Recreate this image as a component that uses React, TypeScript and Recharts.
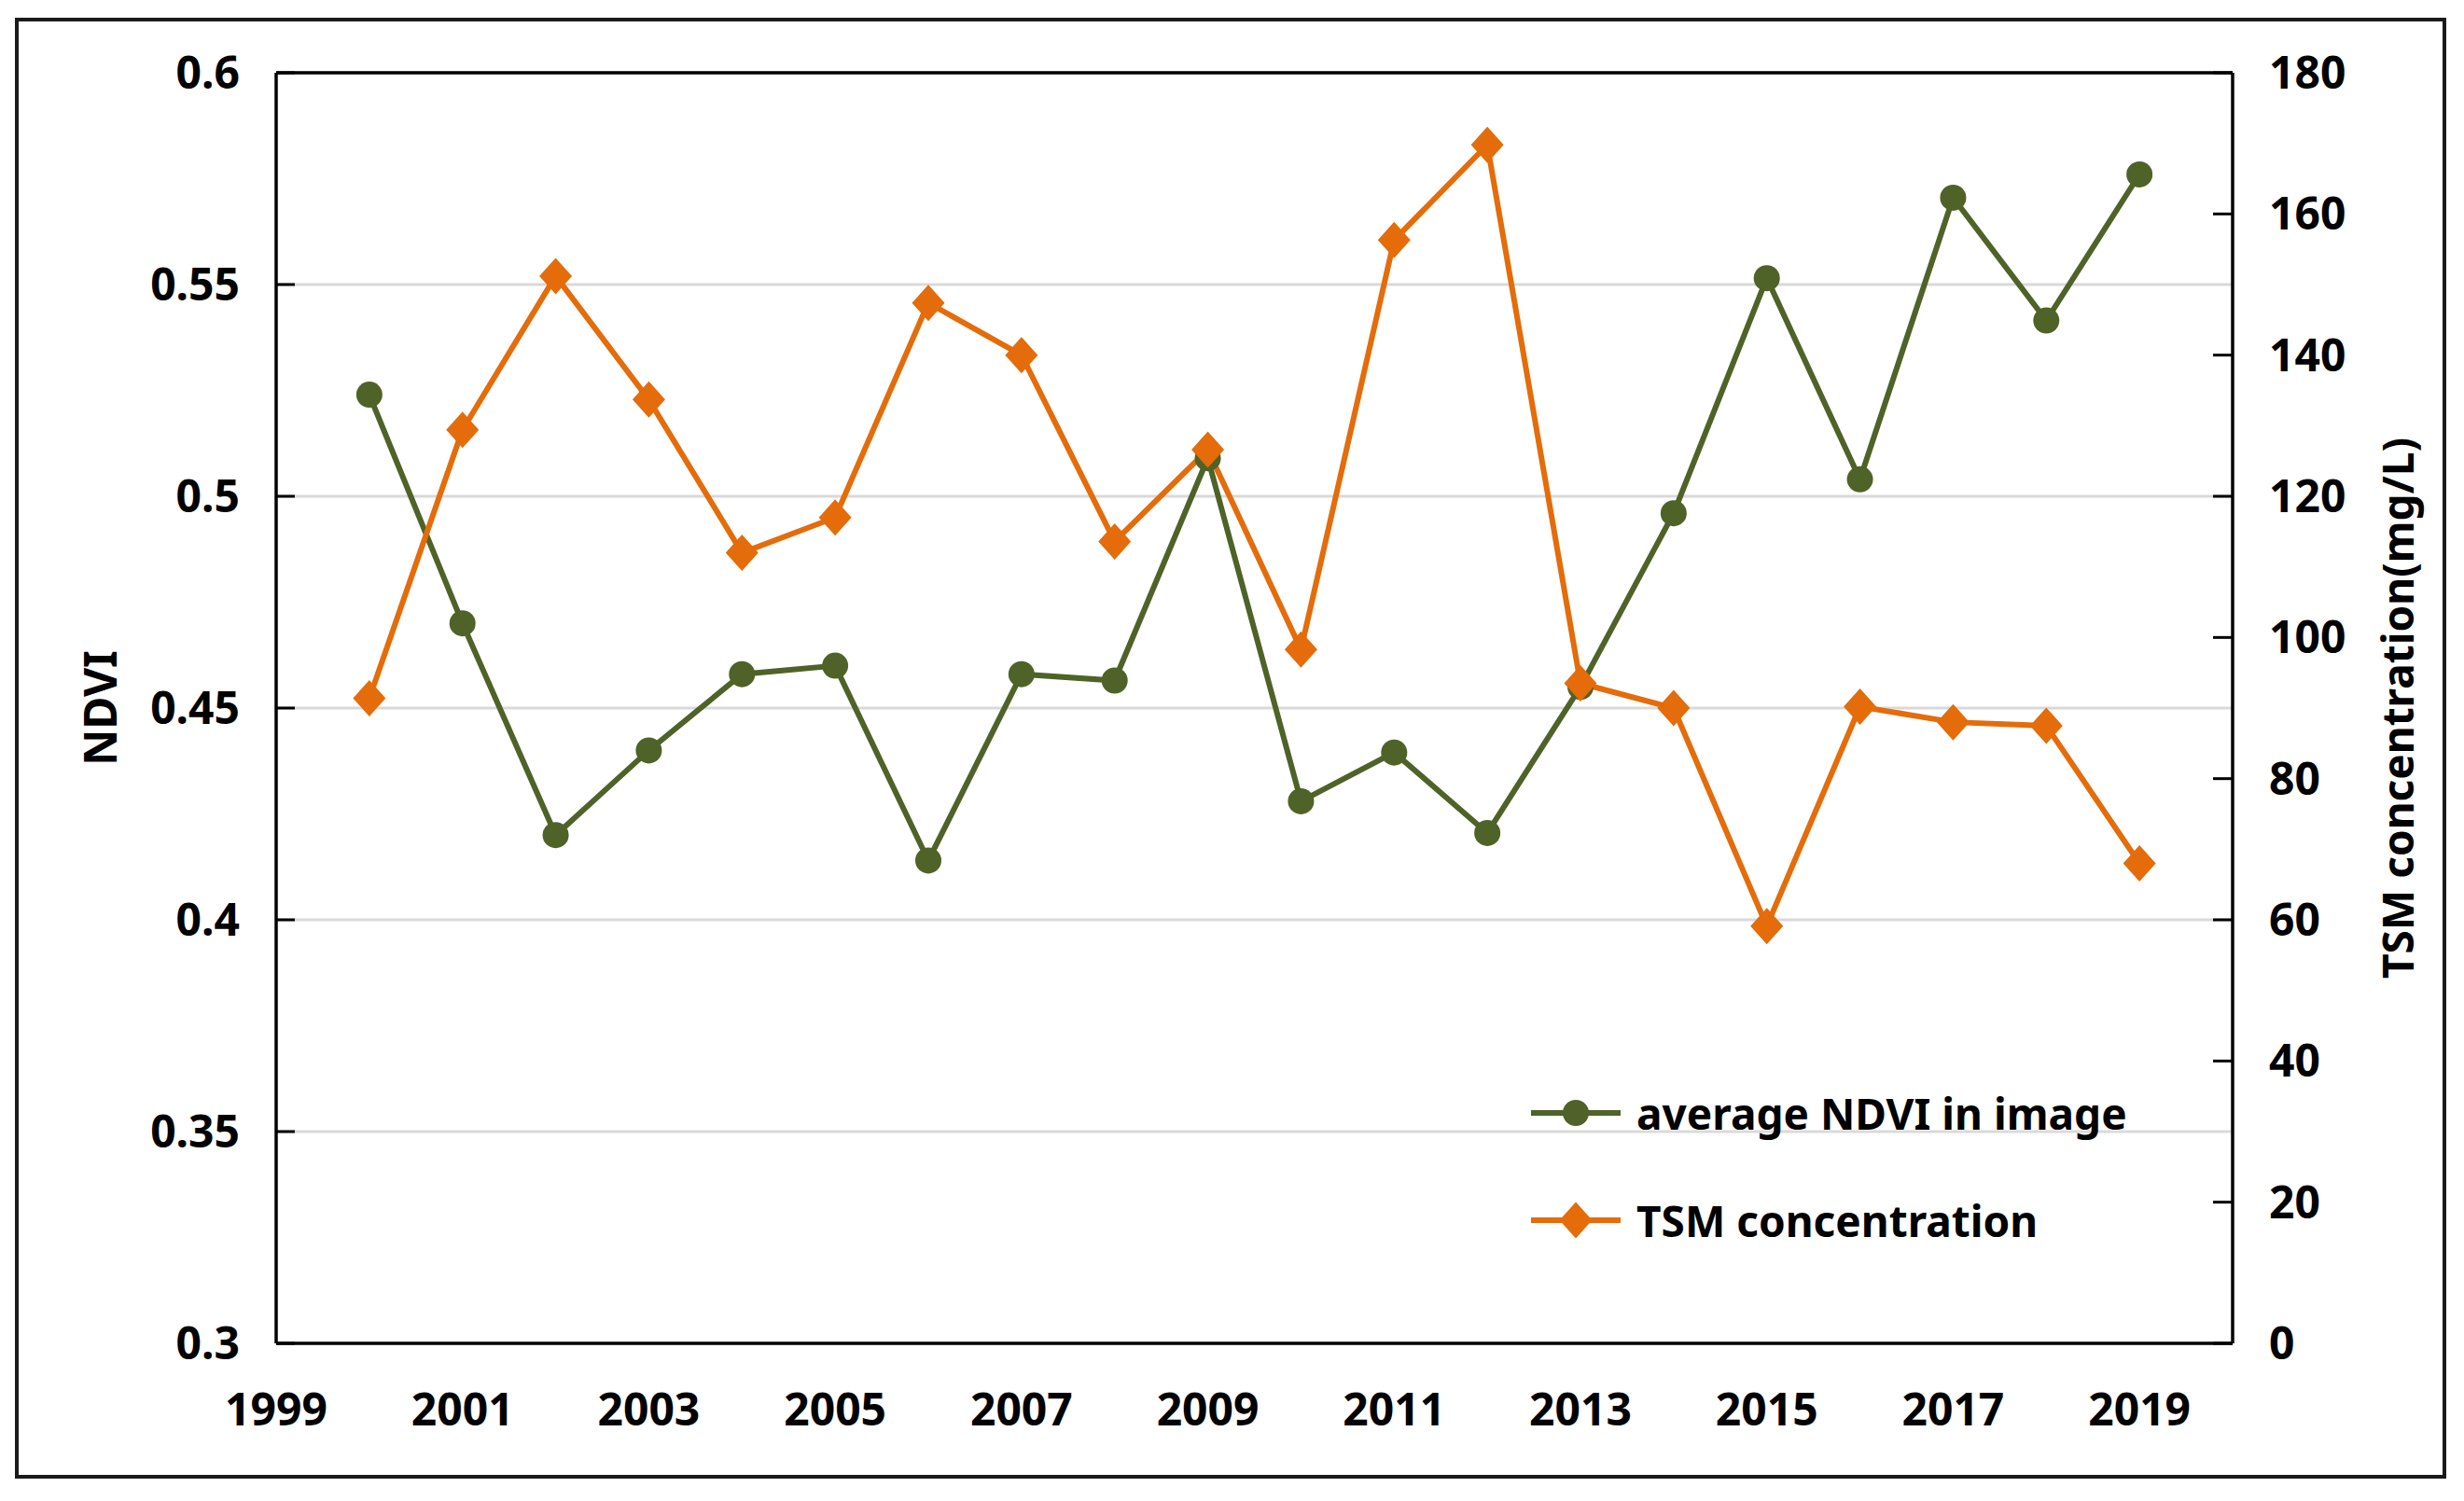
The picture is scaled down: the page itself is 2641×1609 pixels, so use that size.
import { LineChart, Line, XAxis, YAxis, CartesianGrid, ReferenceLine, Legend } from "recharts";

const YEARS = [2000, 2001, 2002, 2003, 2004, 2005, 2006, 2007, 2008, 2009, 2010, 2011, 2012, 2013, 2014, 2015, 2016, 2017, 2018, 2019];
const NDVI = [0.524, 0.47, 0.42, 0.44, 0.458, 0.46, 0.414, 0.458, 0.4565, 0.509, 0.428, 0.4395, 0.4205, 0.455, 0.496, 0.5515, 0.504, 0.5705, 0.5415, 0.576];
const TSM = [91.4, 129.4, 151.2, 133.7, 112, 117, 147.4, 140, 113.6, 126.6, 98.3, 156.3, 169.8, 93.5, 90, 59.1, 90.2, 88, 87.5, 68];

const YEAR_TICKS = [1999, 2001, 2003, 2005, 2007, 2009, 2011, 2013, 2015, 2017, 2019];
const NDVI_TICKS = [0.3, 0.35, 0.4, 0.45, 0.5, 0.55, 0.6];
const TSM_TICKS = [0, 20, 40, 60, 80, 100, 120, 140, 160, 180];
const LEGEND_ORDER = ["ndvi", "tsm"];

const data = YEARS.map((year, i) => ({ year, ndvi: NDVI[i], tsm: TSM[i] }));

const GREEN = "#4f6228";
const ORANGE = "#e46c0a";
const FONT = "'Noto Sans', sans-serif";
const tickStyle = { fill: "#000", fontSize: 48, fontWeight: 700, fontFamily: FONT };

function diamondPath(cx: number, cy: number, w: number, h: number) {
  return `M${cx} ${cy - h}L${cx + w} ${cy}L${cx} ${cy + h}L${cx - w} ${cy}Z`;
}

const CircleDot = (props: any) => {
  const { cx, cy, index } = props;
  if (cx == null || cy == null) return <g key={index} />;
  return <circle key={index} cx={cx} cy={cy} r={14} fill={GREEN} />;
};

const DiamondDot = (props: any) => {
  const { cx, cy, index } = props;
  if (cx == null || cy == null) return <g key={index} />;
  return <path key={index} d={diamondPath(cx, cy, 17.5, 19.5)} fill={ORANGE} />;
};

const NdviTitle = ({ viewBox }: any) => {
  const x = viewBox.x + 29;
  const y = viewBox.y + viewBox.height / 2;
  return (
    <text x={x} y={y} transform={`rotate(-90, ${x}, ${y})`} textAnchor="middle"
      style={{ fontSize: 48, fontWeight: 700, fontFamily: FONT, fill: "#000" }}>
      NDVI
    </text>
  );
};

const TsmTitle = ({ viewBox }: any) => {
  const x = viewBox.x + 194;
  const y = viewBox.y + viewBox.height / 2;
  return (
    <text x={x} y={y} transform={`rotate(-90, ${x}, ${y})`} textAnchor="middle"
      style={{ fontSize: 46, fontWeight: 700, fontFamily: FONT, fill: "#000" }}>
      TSM concentration(mg/L)
    </text>
  );
};

const renderLegend = (props: any) => {
  const items = [...(props.payload || [])].sort(
    (a: any, b: any) => LEGEND_ORDER.indexOf(a.dataKey) - LEGEND_ORDER.indexOf(b.dataKey)
  );
  return (
    <div>
      {items.map((entry: any) => (
        <div key={entry.value} style={{ display: "flex", alignItems: "center", height: 115 }}>
          <svg width={96} height={44}>
            <line x1={0} y1={22} x2={96} y2={22} stroke={entry.color} strokeWidth={6} />
            {entry.dataKey === "tsm" ? (
              <path d={diamondPath(48, 22, 17.5, 19.5)} fill={entry.color} />
            ) : (
              <circle cx={48} cy={22} r={14} fill={entry.color} />
            )}
          </svg>
          <span style={{ marginLeft: 17, fontSize: 46, fontWeight: 700, fontFamily: FONT, color: "#000", whiteSpace: "nowrap" }}>
            {entry.value}
          </span>
        </div>
      ))}
    </div>
  );
};

export default function App() {
  return (
    <div style={{ position: "absolute", left: 0, top: 0, width: 2641, height: 1609, background: "#fff" }}>
      <div
        style={{
          position: "absolute",
          left: 16,
          top: 19,
          width: 2606,
          height: 1566,
          border: "4px solid #1a1a1a",
          boxSizing: "border-box",
        }}
      />
      <LineChart
        width={2641}
        height={1609}
        data={data}
        margin={{ top: 78, right: 48, bottom: 69, left: 96 }}
        style={{ position: "absolute", left: 0, top: 0 }}
      >
        <CartesianGrid yAxisId="left" vertical={false} stroke="#d9d9d9" strokeWidth={3} />
        <XAxis
          type="number"
          dataKey="year"
          domain={[1999, 2020]}
          ticks={YEAR_TICKS}
          interval={0}
          allowDataOverflow
          height={100}
          tickLine={false}
          tickSize={0}
          tickMargin={54}
          axisLine={{ stroke: "#000", strokeWidth: 3.5 }}
          tick={tickStyle}
        />
        <YAxis
          yAxisId="left"
          domain={[0.3, 0.6]}
          ticks={NDVI_TICKS}
          interval={0}
          width={200}
          tickSize={-20}
          tickMargin={59}
          axisLine={{ stroke: "#000", strokeWidth: 3.5 }}
          tickLine={{ stroke: "#000", strokeWidth: 3 }}
          tick={tickStyle}
          tickFormatter={(v: number) => String(v)}
          label={<NdviTitle />}
        />
        <YAxis
          yAxisId="right"
          orientation="right"
          domain={[0, 180]}
          ticks={TSM_TICKS}
          interval={0}
          width={200}
          tickSize={-21}
          tickMargin={60}
          axisLine={{ stroke: "#000", strokeWidth: 3.5 }}
          tickLine={{ stroke: "#000", strokeWidth: 3 }}
          tick={tickStyle}
          label={<TsmTitle />}
        />
        <ReferenceLine yAxisId="left" y={0.6} stroke="#000" strokeWidth={3.5} />
        <Legend
          layout="vertical"
          align="center"
          verticalAlign="middle"
          content={renderLegend}
          wrapperStyle={{ position: "absolute", left: 1641, top: 1135, width: "auto" }}
        />
        <Line
          yAxisId="left"
          dataKey="ndvi"
          name="average NDVI in image"
          stroke={GREEN}
          strokeWidth={6}
          dot={CircleDot}
          activeDot={false}
          isAnimationActive={false}
        />
        <Line
          yAxisId="right"
          dataKey="tsm"
          name="TSM concentration"
          stroke={ORANGE}
          strokeWidth={6}
          dot={DiamondDot}
          activeDot={false}
          isAnimationActive={false}
        />
      </LineChart>
    </div>
  );
}
